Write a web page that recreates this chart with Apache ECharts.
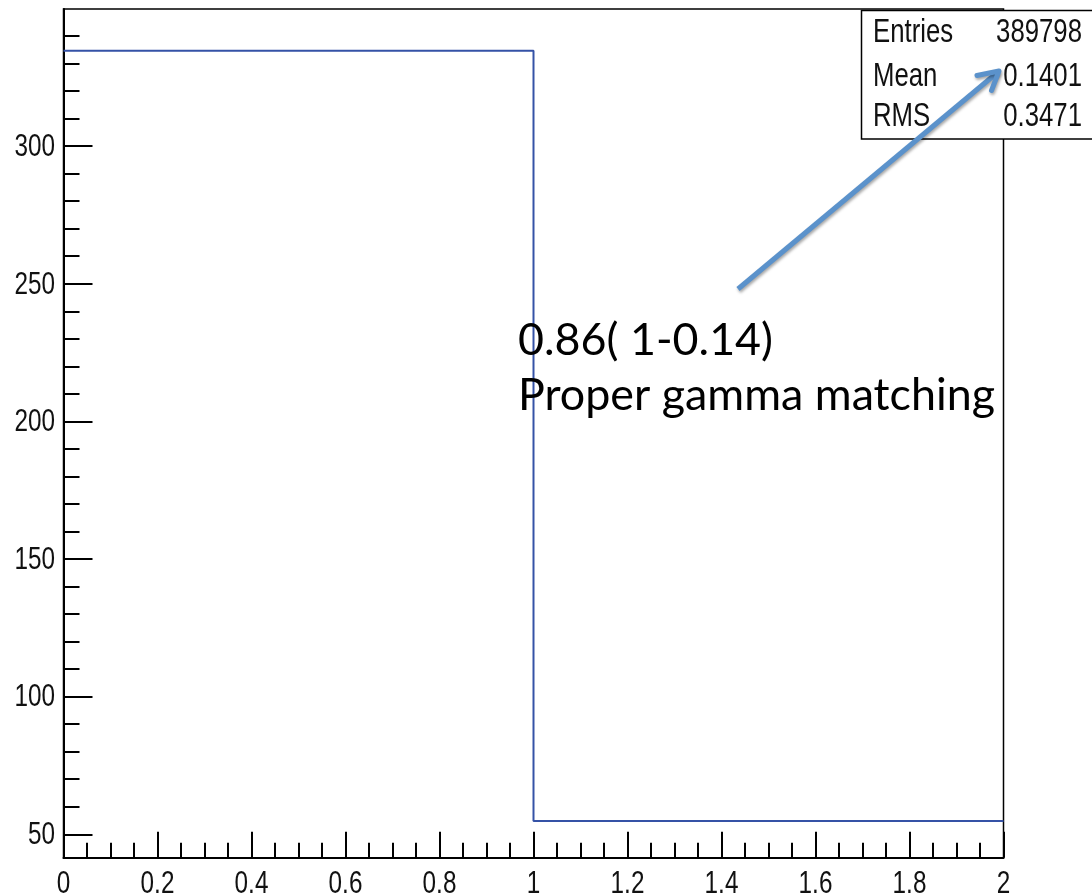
<!DOCTYPE html>
<html>
<head>
<meta charset="utf-8">
<script src="https://cdn.jsdelivr.net/npm/echarts@6/dist/echarts.min.js"></script>
<style>
html,body{margin:0;padding:0;background:#fff;}
#chart{width:1092px;height:896px;}
</style>
</head>
<body>
<div id="chart"></div>
<script>
// ---- data ----
const binEdges = [0, 1, 2];
const binValues = [334.6, 54.8];
const xTickValues = [0, 0.2, 0.4, 0.6, 0.8, 1, 1.2, 1.4, 1.6, 1.8, 2];
const xTickLabels = ['0', '0.2', '0.4', '0.6', '0.8', '1', '1.2', '1.4', '1.6', '1.8', '2'];
const yMajorTicks = [50, 100, 150, 200, 250, 300];
const yTickLabels = ['50', '100', '150', '200', '250', '300'];
const yMinorTicks = [60, 70, 80, 90, 110, 120, 130, 140, 160, 170, 180, 190, 210, 220, 230, 240, 260, 270, 280, 290, 310, 320, 330, 340];
const yRange = [41.5, 349.8];
const statNames = ['Entries', 'Mean', 'RMS'];
const statValues = ['389798', '0.1401', '0.3471'];
const noteLines = ['0.86( 1-0.14)', 'Proper gamma matching'];

// ---- helpers ----
const helv = "'Liberation Sans', Arial, sans-serif";
const noteFont = "Lato, 'Open Sans', sans-serif";
function textWidth(text, size, family) {
  const c = document.createElement('canvas').getContext('2d');
  c.font = size + 'px ' + family;
  return c.measureText(text).width;
}
const noteSize = 40 * 477 / textWidth(noteLines[1], 40, noteFont);

const histData = [];
for (let i = 0; i < binValues.length; i++) histData.push([binEdges[i], binValues[i]]);
histData.push([binEdges[binEdges.length - 1], binValues[binValues.length - 1]]);

const chart = echarts.init(document.getElementById('chart'), null, {renderer: 'canvas'});

const option = {
  animation: false,
  backgroundColor: '#fff',
  grid: {left: 63.5, right: 88.5, top: 9, bottom: 38.3, show: true, borderColor: '#000', borderWidth: 1.5, backgroundColor: 'transparent'},
  xAxis: {
    type: 'value', min: 0, max: 2, interval: 0.2,
    axisLine: {onZero: false, lineStyle: {color: '#000', width: 2}},
    axisTick: {inside: true, length: 26, lineStyle: {color: '#000', width: 2}},
    minorTick: {show: true, splitNumber: 4, length: 15, lineStyle: {color: '#000', width: 2}},
    splitLine: {show: false},
    axisLabel: {show: false}
  },
  yAxis: [
    {
      type: 'value', min: yRange[0], max: yRange[1], position: 'left',
      axisLine: {show: true, onZero: false, lineStyle: {color: '#000', width: 2}},
      axisTick: {show: true, inside: true, length: 29, customValues: yMajorTicks, lineStyle: {color: '#000', width: 2}},
      axisLabel: {show: false},
      splitLine: {show: false}
    },
    {
      type: 'value', min: yRange[0], max: yRange[1], position: 'left',
      axisLine: {show: false},
      axisTick: {show: true, inside: true, length: 16, customValues: yMinorTicks, lineStyle: {color: '#000', width: 2}},
      axisLabel: {show: false},
      splitLine: {show: false}
    }
  ],
  series: [{
    type: 'line', step: 'end', data: histData, yAxisIndex: 0,
    symbol: 'none', lineStyle: {color: '#3552a6', width: 2}, clip: true
  }]
};
chart.setOption(option);

// ---- tick labels and annotations (positions through the chart's own scales) ----
const graphics = [];
const labelFont = '32px ' + helv;
const squeeze = 0.76;
xTickValues.forEach((v, i) => {
  const px = chart.convertToPixel({xAxisIndex: 0}, v);
  graphics.push({type: 'text', z: 50, x: px, y: 884, scaleX: squeeze,
    style: {text: xTickLabels[i], font: labelFont, fill: '#111', textAlign: 'center', textVerticalAlign: 'middle'}});
});
yMajorTicks.forEach((v, i) => {
  const py = chart.convertToPixel({yAxisIndex: 0}, v);
  graphics.push({type: 'text', z: 50, x: 55, y: py + 1, scaleX: squeeze,
    style: {text: yTickLabels[i], font: labelFont, fill: '#111', textAlign: 'right', textVerticalAlign: 'middle'}});
});

graphics.push({type: 'rect', z: 100, shape: {x: 861.5, y: 10.5, width: 240, height: 128.5},
  style: {fill: '#fff', stroke: '#000', lineWidth: 1.5}});
const rowY = [33, 76.5, 117];
const statFont = '33px ' + helv;
statNames.forEach((n, i) => {
  graphics.push({type: 'text', z: 101, x: 873, y: rowY[i], scaleX: 0.78,
    style: {text: n, font: statFont, fill: '#111', textAlign: 'left', textVerticalAlign: 'middle'}});
  graphics.push({type: 'text', z: 101, x: 1082, y: rowY[i], scaleX: 0.78,
    style: {text: statValues[i], font: statFont, fill: '#111', textAlign: 'right', textVerticalAlign: 'middle'}});
});
graphics.push({type: 'text', z: 102, x: 518, y: 341,
  style: {text: noteLines[0], font: noteSize.toFixed(1) + 'px ' + noteFont, fill: '#000', textAlign: 'left', textVerticalAlign: 'middle'}});
graphics.push({type: 'text', z: 102, x: 518, y: 396,
  style: {text: noteLines[1], font: noteSize.toFixed(1) + 'px ' + noteFont, fill: '#000', textAlign: 'left', textVerticalAlign: 'middle'}});
const arrowColor = '#5b92cb';
const arrowShadow = {shadowBlur: 3, shadowColor: 'rgba(0,0,0,0.35)', shadowOffsetX: 1, shadowOffsetY: 2};
graphics.push({type: 'polyline', z: 103, shape: {points: [[738, 289], [998, 72]]},
  style: Object.assign({stroke: arrowColor, lineWidth: 5, lineCap: 'butt', fill: null}, arrowShadow)});
graphics.push({type: 'polyline', z: 103, shape: {points: [[977, 75.5], [999, 71], [991.5, 90.5]]},
  style: Object.assign({stroke: arrowColor, lineWidth: 5, lineCap: 'round', lineJoin: 'round', fill: null}, arrowShadow)});

chart.setOption({graphic: graphics});
</script>
</body>
</html>
